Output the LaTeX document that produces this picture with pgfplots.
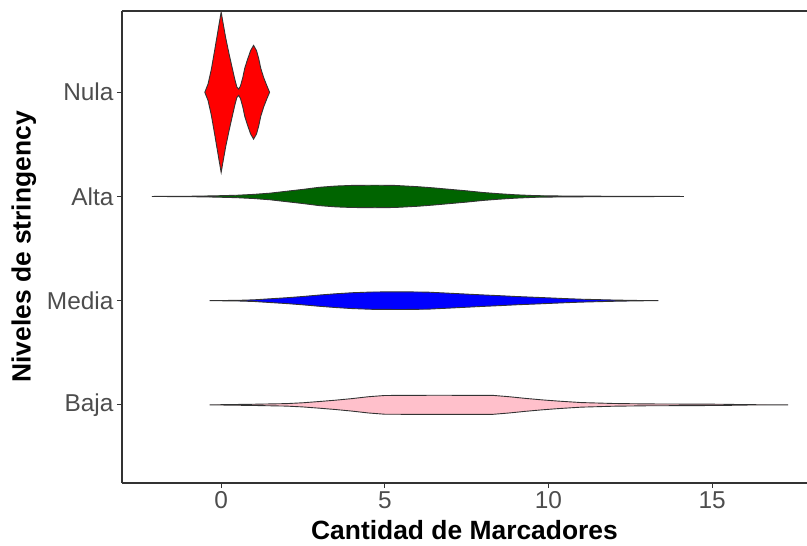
\documentclass[border=0pt]{standalone}
\usepackage{pgfplots}
\pgfplotsset{compat=1.18}
\usepackage{fontspec}
\setmainfont{Liberation Sans}
\definecolor{tickgray}{HTML}{4D4D4D}
\definecolor{linegray}{HTML}{333333}
\definecolor{pinkfill}{HTML}{FFC0CB}
\definecolor{dkgreen}{HTML}{006400}

\begin{document}
\begin{tikzpicture}
\begin{axis}[
    width=685bp, height=472bp, scale only axis,
    xmin=-3.03, xmax=17.9, ymin=0.25, ymax=4.78,
    axis x line=box, axis y line=left,
    axis line style={-, linegray, line width=1.1bp},
    xtick={0,5,10,15}, ytick={1,2,3,4},
    yticklabels={Baja,Media,Alta,Nula},
    xtick pos=lower, ytick pos=left,
    tick align=outside, major tick length=5bp,
    tick style={linegray, line width=1.1bp},
    minor tick num=0,
    /pgf/number format/assume math mode=true,
    ticklabel style={font=\fontsize{24.5}{24.5}\selectfont, text=tickgray},
    xlabel={Cantidad de Marcadores},
    ylabel={Niveles de stringency},
    label style={font=\fontsize{26.5}{26.5}\selectfont\bfseries},
    xlabel style={yshift=-5bp},
    ylabel style={yshift=4bp},
    every axis plot/.append style={draw=linegray, line width=0.9bp},
]
% Baja
\addplot[fill=pinkfill] coordinates {
(-0.35,1) (1.0,1.006) (2.0,1.012) (2.5,1.020) (3.0,1.032) (3.5,1.045) (4.0,1.060) (4.5,1.078) (5.0,1.090) (6.5,1.092) (8.3,1.091) (8.8,1.078) (9.3,1.062) (9.8,1.048) (10.3,1.036) (11.0,1.022) (12.0,1.013) (13.0,1.009) (15.3,1.006) (16.0,1.002) (17.32,1)
(16.0,0.998) (15.3,0.994) (13.0,0.991) (12.0,0.987) (11.0,0.978) (10.3,0.964) (9.8,0.952) (9.3,0.938) (8.8,0.922) (8.3,0.909) (6.5,0.908) (5.0,0.910) (4.5,0.922) (4.0,0.940) (3.5,0.955) (3.0,0.968) (2.5,0.980) (2.0,0.988) (1.0,0.994)
} --cycle;
% Media
\addplot[fill=blue] coordinates {
(-0.35,2) (0.5,2.003) (1.0,2.008) (1.5,2.018) (2.0,2.028) (2.5,2.040) (3.0,2.054) (3.5,2.066) (4.0,2.076) (4.6,2.083) (5.5,2.085) (6.3,2.082) (7.0,2.071) (7.5,2.063) (8.0,2.055) (8.5,2.048) (9.0,2.040) (9.7,2.031) (10.5,2.020) (11.0,2.014) (12.0,2.006) (12.7,2.002) (13.36,2)
(12.7,1.998) (12.0,1.994) (11.0,1.986) (10.5,1.980) (9.7,1.969) (9.0,1.960) (8.5,1.952) (8.0,1.945) (7.5,1.937) (7.0,1.929) (6.3,1.918) (5.5,1.915) (4.6,1.917) (4.0,1.924) (3.5,1.934) (3.0,1.946) (2.5,1.960) (2.0,1.972) (1.5,1.982) (1.0,1.992) (0.5,1.997)
} --cycle;
% Alta
\addplot[fill=dkgreen] coordinates {
(-2.12,3) (-1.0,3.002) (-0.2,3.006) (0.5,3.012) (1.0,3.020) (1.5,3.032) (2.0,3.050) (2.5,3.068) (3.0,3.088) (3.5,3.100) (4.0,3.106) (4.7,3.108) (5.3,3.106) (6.0,3.094) (6.5,3.082) (7.0,3.068) (7.5,3.054) (8.0,3.038) (8.5,3.026) (9.0,3.016) (9.6,3.008) (10.5,3.004) (12,3.002) (14.14,3)
(12,2.998) (10.5,2.996) (9.6,2.992) (9.0,2.984) (8.5,2.974) (8.0,2.962) (7.5,2.946) (7.0,2.932) (6.5,2.918) (6.0,2.906) (5.3,2.894) (4.7,2.892) (4.0,2.894) (3.5,2.900) (3.0,2.912) (2.5,2.932) (2.0,2.950) (1.5,2.968) (1.0,2.980) (0.5,2.988) (-0.2,2.994) (-1.0,2.998)
} --cycle;
% Nula
\addplot[fill=red] coordinates {
(-0.50,4) (-0.40,4.08) (-0.30,4.22) (-0.20,4.40) (-0.13,4.53) (-0.06,4.66) (0,4.77) (0.06,4.66) (0.14,4.52) (0.24,4.37) (0.34,4.23) (0.42,4.12) (0.48,4.05) (0.535,4.03) (0.59,4.06) (0.66,4.14) (0.72,4.23) (0.80,4.31) (0.90,4.40) (0.99,4.45) (1.08,4.40) (1.15,4.32) (1.21,4.23) (1.30,4.14) (1.40,4.06) (1.48,4)
(1.40,3.94) (1.30,3.86) (1.21,3.77) (1.15,3.68) (1.08,3.60) (0.99,3.55) (0.90,3.60) (0.80,3.69) (0.72,3.77) (0.66,3.86) (0.59,3.94) (0.535,3.97) (0.48,3.95) (0.42,3.88) (0.34,3.77) (0.24,3.63) (0.14,3.48) (0.06,3.34) (0,3.23) (-0.06,3.34) (-0.13,3.47) (-0.20,3.60) (-0.30,3.78) (-0.40,3.92)
} --cycle;
\end{axis}
\pgfresetboundingbox
\path ([shift={(-122bp,-63bp)}]current axis.south west) rectangle ([shift={(0bp,11bp)}]current axis.north east);
\end{tikzpicture}
\end{document}
